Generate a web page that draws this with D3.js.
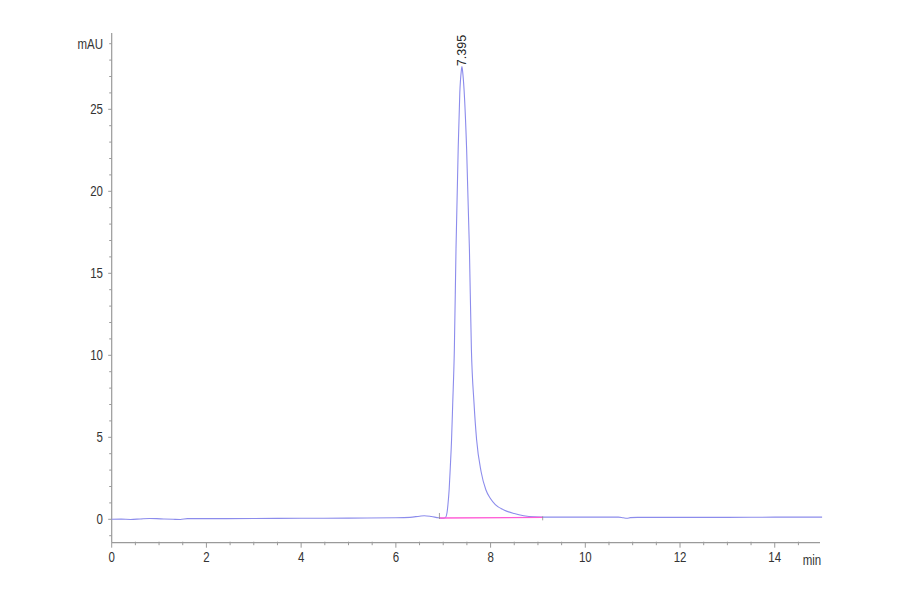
<!DOCTYPE html>
<html><head><meta charset="utf-8">
<script src="https://cdn.jsdelivr.net/npm/d3@7"></script>
<style>
body{margin:0;background:#fff;}
svg text{font-family:"Liberation Sans",Arial,sans-serif;}
</style></head>
<body><svg id="c" width="900" height="594"></svg>
<script>
// retention time (min)
const times = [0,0.2,0.4,0.6,0.8,0.95,1.1,1.3,1.45,1.6,2,3,4,5,6,6.3,6.5,6.6,6.75,6.9,7.0,7.05,7.08,7.1,7.125,7.15,7.176,7.2,7.235,7.27,7.316,7.35,7.38,7.395,7.41,7.44,7.494,7.553,7.595,7.65,7.705,7.8,7.9,8.0,8.1,8.28,8.5,8.7,8.92,9.2,10,10.7,10.8,10.88,10.95,11.1,12,13,14,15];
// signal (mAU)
const signal = [0.0,0.01,-0.01,0.02,0.05,0.04,0.02,0.0,-0.01,0.04,0.04,0.05,0.06,0.07,0.09,0.12,0.19,0.22,0.17,0.09,0.06,0.12,0.4,0.9,1.8,3.2,4.85,7.0,10.35,16.5,22.6,26.0,27.3,27.6,27.3,26.2,22.6,16.5,10.35,7.1,4.85,2.9,1.8,1.25,0.9,0.57,0.35,0.22,0.15,0.13,0.13,0.13,0.09,0.06,0.1,0.12,0.12,0.12,0.13,0.13];
const peakTime = 7.395, peakHeight = 27.6, peakLabel = "7.395";
const baselineStart = [6.92, 0.08], baselineEnd = [9.1, 0.12];
const xMajor = [0,2,4,6,8,10,12,14];
const yMajor = [0,5,10,15,20,25];
const xUnit = "min", yUnit = "mAU";

const svg = d3.select("#c");
const x = d3.scaleLinear().domain([0,15]).range([111.7, 822.1]);
const y = d3.scaleLinear().domain([0,25]).range([519.3, 109.3]);
const axisColor = "#9a9a9a", textColor = "#333";
const x0 = x(0), yBot = 542.7, yTop = 33, xEnd = 820;

function label(px, py, txt, anchor){
  svg.append("text").attr("transform",`translate(${px},${py}) scale(0.82,1)`)
    .attr("dy","0.36em").attr("text-anchor",anchor)
    .attr("font-size",14).attr("fill",textColor).text(txt);
}

// axes lines
svg.append("line").attr("x1",x0).attr("x2",x0).attr("y1",yTop).attr("y2",yBot).attr("stroke",axisColor).attr("stroke-width",1.2);
svg.append("line").attr("x1",x0).attr("x2",xEnd).attr("y1",yBot).attr("y2",yBot).attr("stroke",axisColor).attr("stroke-width",1.2);

// y ticks
d3.range(-1,30).forEach(v=>{
  const major = v%5===0;
  svg.append("line").attr("x1",x0-(major?3.5:2.5)).attr("x2",x0).attr("y1",y(v)).attr("y2",y(v)).attr("stroke",axisColor);
});
yMajor.forEach(v=>label(103, y(v), v, "end"));
label(103, y(29), yUnit, "end");

// x ticks
d3.range(0,15.01,0.5).forEach(v=>{
  if (x(v) > xEnd+0.5) return;
  const major = Math.abs(v%2)<1e-9;
  svg.append("line").attr("x1",x(v)).attr("x2",x(v)).attr("y1",yBot-(major?0:1)).attr("y2",yBot+(major?5:2.5)).attr("stroke",axisColor);
});
xMajor.forEach(v=>label(x(v), 557, v, "middle"));
label(812, 560, xUnit, "middle");

// trace
const pts = times.map((t,i)=>[t,signal[i]]);
const line = d3.line().x(d=>x(d[0])).y(d=>y(d[1])).curve(d3.curveMonotoneX);
svg.append("path").attr("d",line(pts)).attr("fill","none").attr("stroke","#8c8cec").attr("stroke-width",1.1);

// baseline
svg.append("line").attr("x1",x(baselineStart[0])).attr("y1",y(baselineStart[1]))
  .attr("x2",x(baselineEnd[0])).attr("y2",y(baselineEnd[1])).attr("stroke","#ff5cd6").attr("stroke-width",1.3);
svg.append("line").attr("x1",x(baselineStart[0])).attr("x2",x(baselineStart[0]))
  .attr("y1",y(baselineStart[1])-5).attr("y2",y(baselineStart[1])+1).attr("stroke","#8a8a8a").attr("stroke-width",0.8);
svg.append("line").attr("x1",x(baselineEnd[0])).attr("x2",x(baselineEnd[0]))
  .attr("y1",y(baselineEnd[1])-1).attr("y2",y(baselineEnd[1])+3).attr("stroke","#8a8a8a").attr("stroke-width",0.8);

// peak label
svg.append("text").attr("transform",`translate(${x(peakTime)+4.5},${y(peakHeight)-0.5}) rotate(-90)`)
  .attr("font-size",12.5).attr("fill","#222")
  .text(peakLabel);
</script></body></html>
